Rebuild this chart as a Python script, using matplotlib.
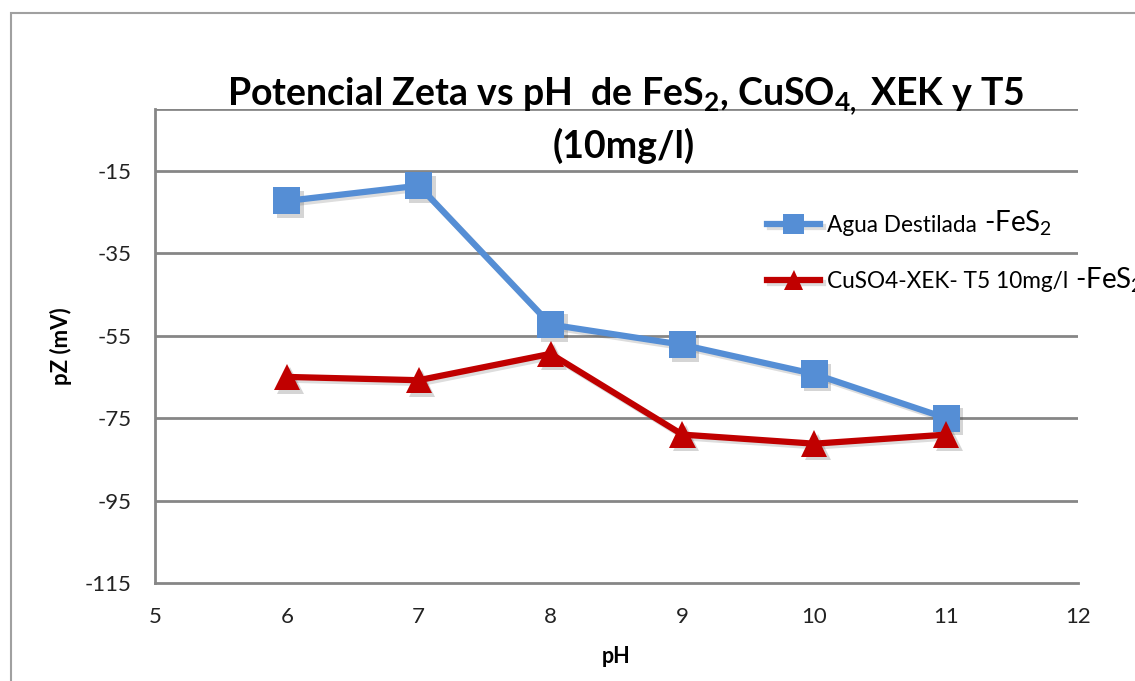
import matplotlib
matplotlib.use('Agg')
import matplotlib.pyplot as plt
import matplotlib.patheffects as pe
from matplotlib.patches import Rectangle

# pH values and zeta potential readings (mV)
ph = [6, 7, 8, 9, 10, 11]
agua_fes2 = [-22.3, -18.6, -52.3, -57.2, -64.3, -75.0]
cuso4_fes2 = [-65.0, -65.8, -59.4, -79.0, -81.2, -79.0]

yticks = [-115, -95, -75, -55, -35, -15]
xticks = [5, 6, 7, 8, 9, 10, 11, 12]

plt.rcParams['font.family'] = ['Lato', 'DejaVu Sans']
plt.rcParams['axes.unicode_minus'] = False
plt.rcParams['mathtext.fontset'] = 'custom'
plt.rcParams['mathtext.rm'] = 'Lato'
plt.rcParams['mathtext.bf'] = 'Lato:bold'
plt.rcParams['mathtext.it'] = 'Lato:italic'

grey = '#868686'
blue = '#558ED5'
red = '#C00000'

fig = plt.figure(figsize=(11.35, 6.81), dpi=100)
W, H = 1135, 681

# outer chart frame
fig.patches.append(Rectangle((11 / W, -0.1), 1.2, 1 - 13 / H + 0.1,
                             transform=fig.transFigure, fill=False,
                             edgecolor='#A0A0A0', linewidth=1.5))

ax = fig.add_axes([155 / W, 1 - 583 / H, (1078 - 155) / W, (583 - 109) / H])
ax.set_xlim(5, 12)
ax.set_ylim(-115, 0)
ax.set_xticks(xticks)
ax.set_yticks(yticks)
ax.tick_params(length=0, labelsize=16, colors='#222222')
ax.tick_params(axis='y', pad=17)
ax.tick_params(axis='x', pad=17)

for y in yticks[1:] + [0]:
    ax.axhline(y, color=grey, linewidth=2, zorder=1)
for side in ['right', 'top']:
    ax.spines[side].set_visible(False)
for side in ['left', 'bottom']:
    ax.spines[side].set_color(grey)
    ax.spines[side].set_linewidth(2)

# soft drop shadows under the markers, then the series themselves
series = [(agua_fes2, blue, 's', 19.5, 'Agua Destilada'),
          (cuso4_fes2, red, '^', 19, 'CuSO4-XEK- T5 10mg/l')]
for vals, col, mk, ms, lab in series:
    ax.plot(ph, vals, linestyle='none', marker=mk, markersize=ms, mew=0,
            color=col, zorder=2,
            path_effects=[pe.SimplePatchShadow(offset=(2.5, -2.5), alpha=0.22,
                                               shadow_rgbFace='#444444')])
    ax.plot(ph, vals, color=col, linewidth=4.5, marker=mk, markersize=ms,
            mew=0, label=lab, zorder=3,
            path_effects=[pe.SimpleLineShadow(offset=(2, -2), alpha=0.18,
                                              shadow_color='#444444'),
                          pe.Normal()])

ax.set_ylabel('pZ (mV)', fontsize=16, fontweight='bold', labelpad=9)
ax.set_xlabel('pH', fontsize=15.5, fontweight='bold', labelpad=14)

fig.text(626 / W, 1 - 96 / H,
         r'Potencial Zeta vs pH  de FeS$_\mathbf{2}$, CuSO$_\mathbf{4,}$ XEK y T5',
         ha='center', va='center', fontsize=27, fontweight='bold')
fig.text(624 / W, 1 - 146 / H, '(10mg/l)', ha='center', va='center',
         fontsize=27, fontweight='bold')

leg = ax.legend(loc='center left', bbox_to_anchor=(767 / W, 1 - 253.5 / H),
                bbox_transform=fig.transFigure, frameon=False, fontsize=16.3,
                handlelength=2.35, handletextpad=0.3, labelspacing=1.55,
                markerscale=0.75, borderpad=0, borderaxespad=0)
# larger "-FeS2" suffix on the same baseline as each legend label
for t in leg.get_texts():
    ax.annotate(r'-FeS$_\mathrm{2}$', xy=(1, 0),
                xycoords=(t, t.get_transform()), xytext=(5, 0),
                textcoords='offset points', fontsize=20, va='baseline',
                annotation_clip=False, zorder=10)

fig.savefig('out.png', dpi=100)
